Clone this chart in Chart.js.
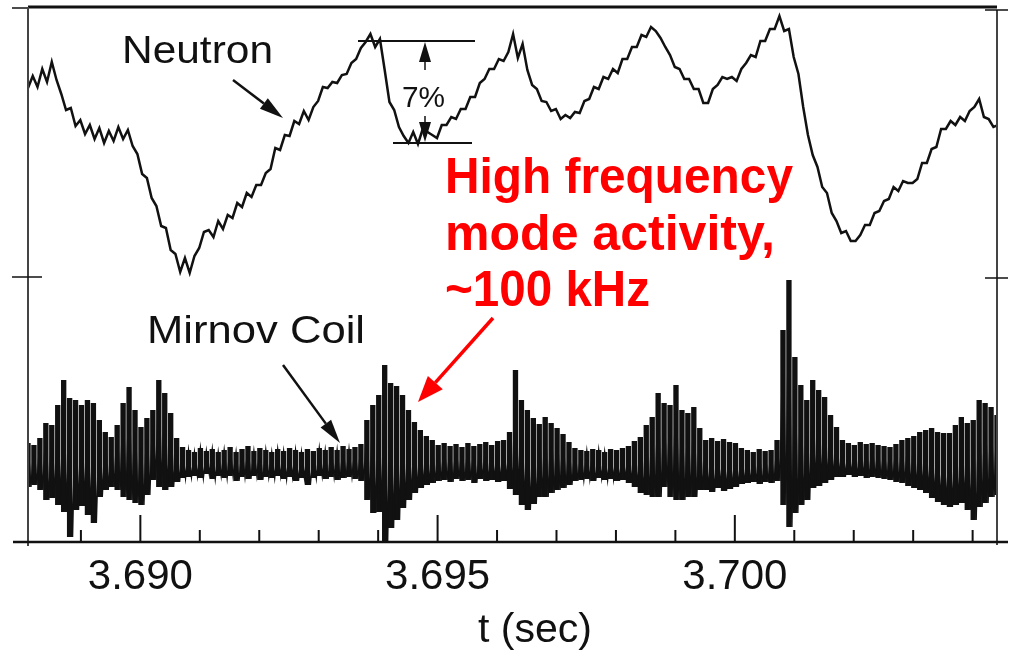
<!DOCTYPE html>
<html>
<head>
<meta charset="utf-8">
<script src="https://cdn.jsdelivr.net/npm/chart.js@4.4.1/dist/chart.umd.min.js"></script>
<style>
  html, body { margin: 0; padding: 0; background: #fff; }
  #chart { display: block; }
</style>
</head>
<body>
<canvas id="chart" width="1011" height="651"></canvas>
<script>
// ===================== Data ===================

// time axis (seconds)
const T_MIN = 3.68811;
const T_MAX = 3.70441;
const TICK_TIMES = [3.689, 3.690, 3.691, 3.692, 3.693, 3.694, 3.695, 3.696,
                    3.697, 3.698, 3.699, 3.700, 3.701, 3.702, 3.703, 3.704];
const LABEL_TIMES = [3.690, 3.695, 3.700];
const LABEL_TEXT = ['3.690', '3.695', '3.700'];

// neutron signal (a.u.), sampled every 0.08 ms from T_MIN
const NEUTRON_T0 = 3.68811;
const NEUTRON_DT = 0.00008;
const neutron = [
  90.8, 93.2, 91.0, 94.6, 92.0, 96.0, 92.4, 89.6, 86.4, 86.8,
  83.2, 84.4, 81.6, 83.4, 80.6, 82.8, 79.8, 82.2, 80.2, 83.0,
  80.6, 82.4, 79.2, 77.6, 73.6, 72.8, 68.8, 67.2, 63.2, 62.8,
  58.4, 57.6, 54.0, 56.8, 53.8, 57.2, 58.8, 62.0, 62.4, 61.0,
  64.2, 62.6, 65.4, 64.8, 67.8, 67.0, 69.8, 69.0, 71.4, 71.4,
  73.8, 74.6, 78.8, 78.4, 81.4, 81.2, 84.2, 83.6, 86.2, 84.4,
  87.0, 88.2, 91.0, 90.8, 92.0, 91.8, 93.4, 93.6, 95.8, 96.6,
  98.8, 100.0, 101.6, 99.0, 100.6, 94.4, 88.0, 86.4, 83.0, 81.2,
  79.8, 82.0, 79.6, 82.6, 82.0, 81.4, 80.8, 83.4, 83.4, 85.0,
  84.6, 86.6, 86.6, 89.0, 89.0, 91.8, 92.6, 94.6, 94.6, 96.6,
  96.2, 98.0, 101.6, 96.8, 99.6, 94.4, 91.4, 90.6, 88.2, 88.0,
  86.2, 86.6, 84.6, 85.4, 84.8, 86.0, 85.8, 88.2, 88.6, 91.0,
  90.6, 93.0, 92.6, 94.6, 93.8, 96.6, 96.6, 99.0, 99.0, 101.4,
  101.0, 103.0, 102.2, 100.8, 99.0, 97.4, 95.0, 94.6, 92.6, 92.6,
  90.6, 90.6, 87.8, 87.8, 90.6, 91.4, 93.0, 92.6, 93.0, 92.2,
  94.6, 95.8, 97.4, 97.0, 100.2, 100.2, 102.6, 102.6, 105.2, 102.2,
  102.6, 97.0, 93.6, 87.0, 81.4, 77.4, 75.0, 71.0, 69.8, 65.8,
  64.2, 61.8, 62.2, 60.2, 60.2, 61.4, 63.4, 63.4, 65.8, 66.2,
  68.2, 68.6, 71.0, 70.2, 72.2, 71.8, 71.8, 72.6, 75.8, 75.8,
  78.6, 79.0, 82.6, 82.6, 84.2, 83.4, 85.0, 84.2, 86.2, 87.0,
  88.6, 85.0, 84.6, 83.0, 83.4
];

// Mirnov coil signal (a.u.), swing top / bottom, every 0.1 ms from T_MIN
const MIRNOV_T0 = 3.68811;
const MIRNOV_DT = 0.0001;
const mirnovHigh = [
  19.8, 19.4, 20.8, 23.8, 23.4, 27.4, 32.4, 28.8, 28.4, 27.4,
  28.4, 27.8, 24.4, 22.0, 21.0, 23.4, 27.8, 31.0, 26.4, 23.0,
  24.8, 26.4, 32.4, 29.8, 25.8, 20.8, 19.0, 18.4, 18.0, 18.8,
  18.2, 18.6, 18.0, 18.4, 19.0, 18.0, 18.6, 19.2, 18.2, 18.8,
  18.4, 18.0, 18.6, 18.2, 18.8, 18.4, 18.0, 18.6, 18.2, 18.8,
  18.4, 19.0, 18.4, 19.2, 18.6, 19.0, 19.6, 24.4, 27.4, 29.4,
  35.4, 31.8, 31.2, 29.4, 26.4, 24.0, 22.4, 21.2, 20.4, 19.4,
  19.8, 19.2, 19.6, 19.0, 19.8, 19.2, 19.6, 20.0, 19.4, 20.2,
  20.4, 22.0, 34.4, 28.4, 26.4, 24.8, 23.6, 25.0, 23.8, 22.8,
  21.6, 20.0, 18.8, 18.4, 18.2, 18.6, 18.4, 18.0, 18.6, 18.4,
  18.8, 19.2, 20.2, 21.0, 23.4, 25.0, 29.8, 27.8, 27.4, 31.4,
  26.4, 25.8, 27.0, 22.8, 20.4, 20.8, 20.2, 20.6, 20.0, 19.8,
  18.8, 18.4, 18.0, 18.6, 18.2, 18.4, 20.4, 42.4, 52.4, 37.0,
  31.4, 28.4, 32.4, 30.4, 29.0, 25.4, 23.0, 20.4, 19.8, 19.4,
  20.0, 19.6, 19.8, 19.4, 19.2, 19.0, 19.6, 20.4, 20.8, 21.2,
  22.0, 22.4, 22.8, 22.0, 21.8, 21.8, 23.4, 25.0, 23.8, 24.4,
  28.4, 27.8, 27.0, 25.4
];
const mirnovLow = [
  11.0, 11.4, 10.4, 8.4, 8.8, 7.4, 6.0, 1.0, 6.4, 7.2,
  5.4, 3.8, 9.0, 10.4, 11.0, 10.4, 9.0, 8.4, 7.8, 7.4,
  9.4, 12.4, 11.0, 10.4, 11.0, 12.0, 12.8, 13.0, 13.2, 12.8,
  13.6, 12.6, 13.2, 12.8, 13.2, 12.2, 13.0, 12.6, 13.2, 12.4,
  13.0, 12.8, 13.2, 12.6, 13.0, 12.2, 12.8, 11.4, 12.8, 13.2,
  12.6, 13.0, 12.4, 12.8, 13.0, 12.6, 12.2, 8.4, 5.8, 6.0,
  0.0, 2.8, 4.4, 6.8, 8.4, 9.8, 10.8, 11.4, 11.8, 12.2,
  12.4, 12.0, 12.6, 12.2, 12.4, 11.8, 12.6, 12.2, 12.4, 12.0,
  12.2, 10.6, 9.4, 7.4, 6.4, 7.6, 9.0, 9.0, 9.8, 10.4,
  10.8, 11.4, 12.2, 12.4, 12.6, 12.2, 12.8, 12.4, 12.6, 12.2,
  12.4, 11.8, 11.0, 9.8, 9.4, 9.0, 9.0, 11.0, 9.0, 8.4,
  8.4, 9.0, 9.0, 10.4, 10.4, 10.0, 10.8, 10.2, 10.6, 11.0,
  11.6, 11.8, 12.0, 11.6, 12.0, 11.8, 12.2, 7.4, 3.0, 5.8,
  7.4, 8.4, 10.8, 11.2, 11.8, 12.4, 13.0, 13.0, 13.4, 13.0,
  13.2, 12.8, 13.0, 12.8, 12.6, 12.4, 12.0, 11.8, 11.2, 10.8,
  10.4, 9.8, 8.8, 8.0, 7.4, 7.0, 7.4, 7.8, 6.4, 4.4,
  7.0, 7.8, 9.0, 9.4
];

// ===================== Build series ===================

const neutronPoints = neutron.map((v, i) => ({ x: NEUTRON_T0 + i * NEUTRON_DT, y: v }));

// body of the oscillation as floating bars
const mirnovBars = mirnovHigh.map((hi, i) => ({
  x: MIRNOV_T0 + i * MIRNOV_DT,
  y: [mirnovLow[i], hi]
}));

// the swing itself, top -> bottom -> top
const mirnovSwing = [];
mirnovHigh.forEach((hi, i) => {
  mirnovSwing.push({ x: MIRNOV_T0 + i * MIRNOV_DT, y: hi });
  mirnovSwing.push({ x: MIRNOV_T0 + (i + 0.5) * MIRNOV_DT, y: mirnovLow[i] });
});

// ===================== Overlay ===================

const INK = '#111';
const RED = '#ff0000';

function line(ctx, x1, y1, x2, y2, w, color) {
  ctx.beginPath();
  ctx.strokeStyle = color || INK;
  ctx.lineWidth = w;
  ctx.moveTo(x1, y1);
  ctx.lineTo(x2, y2);
  ctx.stroke();
}

function arrow(ctx, x1, y1, x2, y2, w, headLen, headWidth, color) {
  const a = Math.atan2(y2 - y1, x2 - x1);
  const bx = x2 - headLen * Math.cos(a);
  const by = y2 - headLen * Math.sin(a);
  line(ctx, x1, y1, bx, by, w, color);
  ctx.beginPath();
  ctx.fillStyle = color || INK;
  ctx.moveTo(x2, y2);
  ctx.lineTo(bx + headWidth / 2 * Math.sin(a), by - headWidth / 2 * Math.cos(a));
  ctx.lineTo(bx - headWidth / 2 * Math.sin(a), by + headWidth / 2 * Math.cos(a));
  ctx.closePath();
  ctx.fill();
}

function fitText(ctx, text, x, baseline, font, width, color) {
  ctx.save();
  ctx.font = font;
  ctx.fillStyle = color || INK;
  ctx.textAlign = 'left';
  ctx.textBaseline = 'alphabetic';
  const w = ctx.measureText(text).width;
  ctx.translate(x, baseline);
  ctx.scale(width / w, 1);
  ctx.fillText(text, 0, 0);
  ctx.restore();
}

const overlay = {
  id: 'overlay',
  afterDraw(chart) {
    const ctx = chart.ctx;
    const { left, right, top, bottom } = chart.chartArea;
    const xs = chart.scales.x;
    ctx.save();
    ctx.lineCap = 'butt';

    // frame
    line(ctx, left, top, right, top, 3);
    line(ctx, left - 16, top + 1, left, top + 1, 1.5);
    line(ctx, left, top, left, bottom + 4, 2, '#444');
    line(ctx, left - 16, 277, left + 14, 277, 1.5);
    line(ctx, right, top + 3, right, bottom + 3, 2, '#444');
    line(ctx, right - 12, top + 3, right + 11, top + 3, 1.5);
    line(ctx, right - 12, 278, right + 11, 278, 1.5);
    line(ctx, left - 15, bottom, right + 11, bottom, 2.5);

    // time ticks, pointing into the plot
    TICK_TIMES.forEach(t => {
      const px = xs.getPixelForValue(t);
      const major = LABEL_TIMES.some(l => Math.abs(l - t) < 1e-7);
      line(ctx, px, bottom, px, bottom - (major ? 27 : 12), 2);
    });

    // axis title
    fitText(ctx, 't (sec)', 478, 642, '40px "Liberation Sans", Arial, sans-serif', 114);

    // trace labels
    fitText(ctx, 'Neutron', 122, 63, '39px "Liberation Sans", Arial, sans-serif', 151);
    arrow(ctx, 233, 80, 283, 118, 2.5, 24, 13);
    fitText(ctx, 'Mirnov Coil', 147, 343, '39px "Liberation Sans", Arial, sans-serif', 218);
    arrow(ctx, 283, 365, 340, 443, 2.5, 24, 13);

    // 7% bracket
    line(ctx, 358, 41, 475, 41, 2);
    line(ctx, 393, 143, 472, 143, 2);
    arrow(ctx, 425, 70, 425, 42, 1.5, 20, 12);
    arrow(ctx, 425, 116, 425, 142, 1.5, 20, 12);
    fitText(ctx, '7%', 402, 107, '30px "Liberation Sans", Arial, sans-serif', 43);

    // red annotation
    const redFont = 'bold 50px "Liberation Sans", Arial, sans-serif';
    fitText(ctx, 'High frequency', 445, 193, redFont, 348, RED);
    fitText(ctx, 'mode activity,', 445, 250, redFont, 330, RED);
    fitText(ctx, '~100 kHz', 445, 306, redFont, 205, RED);
    arrow(ctx, 493, 318, 418, 402, 3.5, 26, 20, RED);

    ctx.restore();
  }
};

// ===================== Chart ===================

const chart = new Chart(document.getElementById('chart'), {
  type: 'line',
  data: {
    datasets: [
      {
        label: 'Neutron',
        data: neutronPoints,
        borderColor: INK,
        borderWidth: 2.5,
        pointRadius: 0,
        tension: 0
      },
      {
        label: 'Mirnov Coil',
        data: mirnovSwing,
        borderColor: INK,
        borderWidth: 1.4,
        pointRadius: 0,
        tension: 0
      },
      {
        type: 'bar',
        label: 'Mirnov Coil body',
        data: mirnovBars,
        backgroundColor: INK,
        borderWidth: 0,
        barPercentage: 0.9,
        categoryPercentage: 1.0,
        grouped: false
      }
    ]
  },
  options: {
    responsive: false,
    animation: false,
    devicePixelRatio: 1,
    layout: { padding: { left: 28, right: 14, top: 7, bottom: 0 } },
    plugins: {
      legend: { display: false },
      tooltip: { enabled: false }
    },
    scales: {
      x: {
        type: 'linear',
        min: T_MIN,
        max: T_MAX,
        offset: false,
        grid: { display: false, offset: false },
        border: { display: false },
        afterBuildTicks: scale => {
          scale.ticks = TICK_TIMES.map(t => ({ value: t }));
        },
        afterFit: scale => { scale.height = 109; },
        ticks: {
          autoSkip: false,
          maxRotation: 0,
          padding: 2,
          color: INK,
          font: { family: '"Liberation Sans", Arial, sans-serif', size: 42 },
          callback: value => {
            const k = LABEL_TIMES.findIndex(l => Math.abs(l - value) < 1e-7);
            return k >= 0 ? LABEL_TEXT[k] : '';
          }
        }
      },
      y: {
        display: false,
        min: 0,
        max: 107
      }
    }
  },
  plugins: [overlay]
});
</script>
</body>
</html>
